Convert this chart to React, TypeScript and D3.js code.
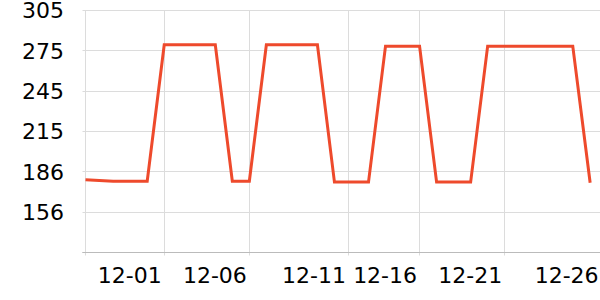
import React from "react";
import * as d3 from "d3";

const dates: string[] = [
  "2023-11-26T09:00", "2023-11-28T00:00", "2023-11-30T00:00", "2023-12-01T00:00",
  "2023-12-04T00:00", "2023-12-05T00:00", "2023-12-06T00:00", "2023-12-07T00:00",
  "2023-12-10T00:00", "2023-12-11T00:00", "2023-12-13T00:00", "2023-12-14T00:00",
  "2023-12-16T00:00", "2023-12-17T00:00", "2023-12-19T00:00", "2023-12-20T00:00",
  "2023-12-25T00:00", "2023-12-26T00:30",
];
const values: number[] = [
  179.7, 178.7, 178.7, 279.6, 279.6, 178.7, 178.7, 279.6, 279.6, 178.0, 178.0, 278.6,
  278.6, 178.0, 178.0, 278.6, 278.6, 177.5,
];
const xTickDates: string[] = [
  "2023-12-01T00:00", "2023-12-06T00:00", "2023-12-11T19:40", "2023-12-16T00:00",
  "2023-12-21T00:00", "2023-12-26T16:00",
];
const yMax = 305;
const yStep = 29.85;
const yTickCount = 6;
const domainStart = "2023-11-26T09:00";
const domainEnd = "2023-12-26T14:24";

export default function App() {
  const W = 600, H = 300;
  const left = 85.5, right = 600, top = 10.5, bottom = 252.5;
  const parse = (s: string) => new Date(s);
  const x = d3.scaleTime().domain([parse(domainStart), parse(domainEnd)]).range([left, right]);
  const yMin = yMax - yStep * yTickCount;
  const y = d3.scaleLinear().domain([yMin, yMax]).range([bottom, top]);
  const yTicks = d3.range(yTickCount + 1).map((i) => yMin + i * yStep);
  const fmt = d3.timeFormat("%m-%d");
  const pts = dates.map((d, i) => ({ d: parse(d), v: values[i] }));
  const line = d3.line<{ d: Date; v: number }>().x((p) => x(p.d)).y((p) => y(p.v));
  const font = "'DejaVu Sans', sans-serif";
  const snap = (v: number) => Math.round(v - 0.5) + 0.5;
  return (
    <div style={{ position: "absolute", left: 0, top: 0 }}>
      <svg width={W} height={H} style={{ display: "block" }}>
        <rect width={W} height={H} fill="#fff" />
        {yTicks.map((t, i) => (
          <line key={"hy" + i} x1={left - 3} x2={right} y1={snap(y(t))} y2={snap(y(t))}
            stroke={i === 0 ? "#bbb" : "#dcdcdc"} strokeWidth={1} />
        ))}
        {xTickDates.map((t, i) => (
          <line key={"gx" + i} x1={snap(x(parse(t)))} x2={snap(x(parse(t)))} y1={top} y2={bottom + 3}
            stroke="#dcdcdc" strokeWidth={1} />
        ))}
        <line x1={left} x2={left} y1={top} y2={bottom + 3} stroke="#dcdcdc" strokeWidth={1} />
        <line x1={left - 3} x2={right} y1={bottom} y2={bottom} stroke="#bbb" strokeWidth={1} />
        {yTicks.slice(1).map((t, i) => (
          <text key={"ly" + i} x={64} y={y(t)} dy="0.36em" textAnchor="end"
            fontFamily={font} fontSize={22} fill="#000">
            {Math.round(t)}
          </text>
        ))}
        {xTickDates.map((t, i) => (
          <text key={"lx" + i} x={x(parse(t)) - 2.5} y={283} textAnchor="end"
            fontFamily={font} fontSize={22} fill="#000">
            {fmt(parse(t))}
          </text>
        ))}
        <path d={line(pts) || ""} fill="none" stroke="#ee4a2c" strokeWidth={3}
          strokeLinejoin="miter" />
      </svg>
    </div>
  );
}
